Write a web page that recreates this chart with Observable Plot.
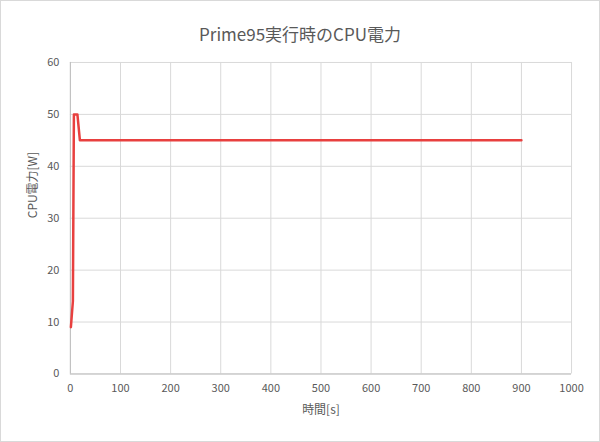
<!DOCTYPE html>
<html><head><meta charset="utf-8">
<script src="https://cdn.jsdelivr.net/npm/d3@7"></script>
<script src="https://cdn.jsdelivr.net/npm/@observablehq/plot@0.6"></script>
<style>
html,body{margin:0;padding:0;background:#fff;}
#wrap{width:600px;height:442px;box-sizing:border-box;border:1px solid #d9d9d9;position:relative;font-family:"Noto Sans CJK JP","Open Sans",sans-serif;}
#title{position:absolute;left:0;top:0;width:598px;height:50px;text-align:center;line-height:66px;font-size:17px;color:#595959;}
#chart{position:absolute;left:-1px;top:48px;}
#chart svg{background:transparent !important;}
</style></head>
<body><div id="wrap"><div id="title">Prime95実行時のCPU電力</div><div id="chart"></div></div>
<script>
const timeSec = [1, 5, 7, 14, 19, 900];
const powerW = [9, 14, 50, 50, 45, 45];
const xTicks = [0,100,200,300,400,500,600,700,800,900,1000];
const yTicks = [0,10,20,30,40,50,60];
const data = timeSec.map((t,i)=>({t, p: powerW[i]}));
const plot = Plot.plot({
  width: 600, height: 393,
  marginLeft: 70, marginRight: 28, marginTop: 13, marginBottom: 68,
  style: {fontFamily: '"Noto Sans CJK JP","Open Sans",sans-serif', fontSize: "11px", color: "#595959", background: "transparent"},
  x: {domain: [0,1000]},
  y: {domain: [0,60]},
  marks: [
    Plot.gridX(xTicks, {stroke: "#d9d9d9", strokeOpacity: 1}),
    Plot.gridY(yTicks, {stroke: "#d9d9d9", strokeOpacity: 1}),
    Plot.ruleY([0], {stroke: "#bfbfbf"}),
    Plot.ruleX([0], {stroke: "#bfbfbf"}),
    Plot.axisX(xTicks, {tickSize: 0, tickPadding: 10, tickFormat: d => String(d), label: null, fill: "#595959", fontSize: 11}),
    Plot.axisY(yTicks, {tickSize: 0, tickPadding: 11, tickFormat: d => String(d), label: null, fill: "#595959", fontSize: 11}),
    Plot.text(["時間[s]"], {frameAnchor: "bottom", dy: 40, text: d => d, fill: "#595959", fontSize: 12}),
    Plot.text(["CPU電力[W]"], {frameAnchor: "left", dx: -37, rotate: -90, text: d => d, fill: "#595959", fontSize: 12}),
    Plot.line(data, {x: "t", y: "p", stroke: "#e8403f", strokeWidth: 2.5})
  ]
});
document.getElementById("chart").appendChild(plot);
</script></body></html>
